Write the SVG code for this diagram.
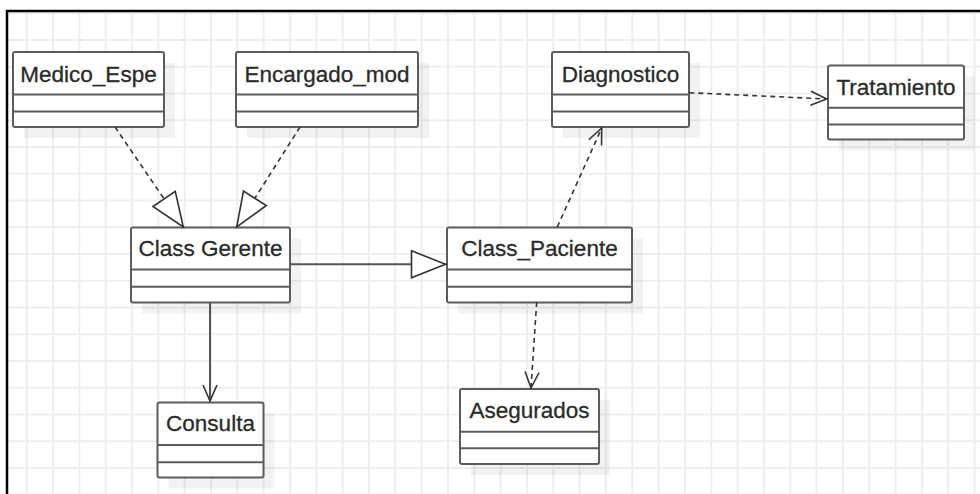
<svg xmlns="http://www.w3.org/2000/svg" width="980" height="494" viewBox="0 0 980 494">
  <defs>
    <pattern id="grid" x="25.7" y="12.25" width="26.33" height="26.75" patternUnits="userSpaceOnUse">
      <path d="M1 0V26.75M0 1H26.33" stroke="#eeeeee" stroke-width="2" fill="none"/>
    </pattern>
    <marker id="tri" viewBox="-2 -16 38 32" refX="34" refY="0" markerWidth="38" markerHeight="32" markerUnits="userSpaceOnUse" orient="auto">
      <path d="M0,-13.5 L34,0 L0,13.5 Z" fill="#fff" stroke="#333" stroke-width="1.6" stroke-linejoin="miter"/>
    </marker>
    <marker id="open" viewBox="-2 -10 20 20" refX="16" refY="0" markerWidth="20" markerHeight="20" markerUnits="userSpaceOnUse" orient="auto">
      <path d="M0,-7 L16,0 L0,7" fill="none" stroke="#333" stroke-width="1.6"/>
    </marker>
  </defs>
  <style>
    .shadow { fill: #000; fill-opacity: 0.05; }
    .box { fill: #fff; stroke: #5c5c5c; stroke-width: 2; }
    .div { stroke: #5c5c5c; stroke-width: 2; }
    .lbl { font-family: "Liberation Sans", Arial, sans-serif; font-size: 22.5px; fill: #2a2a2a; stroke: #2a2a2a; stroke-width: 0.3; text-anchor: middle; }
    .dash { fill: none; stroke: #333; stroke-width: 1.6; stroke-dasharray: 5 4; }
    .solid { fill: none; stroke: #555; stroke-width: 2; }
  </style>
  <rect x="0" y="0" width="980" height="494" fill="#fff"/>
  <rect x="8" y="12" width="972" height="482" fill="url(#grid)"/>
  <g id="frame">
    <line x1="7" y1="10" x2="7" y2="494" stroke="#000" stroke-width="2.5"/>
    <line x1="6" y1="11" x2="980" y2="11" stroke="#000" stroke-width="2.4"/>
  </g>

  <g id="Medico_Espe">
    <rect class="shadow" x="24" y="63" width="151" height="75"/>
    <rect class="box" x="13" y="52" width="151" height="75" rx="2"/>
    <line class="div" x1="13" y1="94.5" x2="164" y2="94.5"/>
    <line class="div" x1="13" y1="111.5" x2="164" y2="111.5"/>
    <text class="lbl" x="88.5" y="81.7">Medico_Espe</text>
  </g>
  <g id="Encargado_mod">
    <rect class="shadow" x="247" y="63" width="182" height="75"/>
    <rect class="box" x="236" y="52" width="182" height="75" rx="2"/>
    <line class="div" x1="236" y1="94.5" x2="418" y2="94.5"/>
    <line class="div" x1="236" y1="111.5" x2="418" y2="111.5"/>
    <text class="lbl" x="327" y="81.7">Encargado_mod</text>
  </g>
  <g id="Diagnostico">
    <rect class="shadow" x="563" y="63" width="137" height="75"/>
    <rect class="box" x="552" y="52" width="137" height="75" rx="2"/>
    <line class="div" x1="552" y1="94.5" x2="689" y2="94.5"/>
    <line class="div" x1="552" y1="111.5" x2="689" y2="111.5"/>
    <text class="lbl" x="620.5" y="81.7">Diagnostico</text>
  </g>
  <g id="Tratamiento">
    <rect class="shadow" x="839" y="76.5" width="136" height="74"/>
    <rect class="box" x="828" y="65.5" width="136" height="74" rx="2"/>
    <line class="div" x1="828" y1="107.8" x2="964" y2="107.8"/>
    <line class="div" x1="828" y1="124.5" x2="964" y2="124.5"/>
    <text class="lbl" x="896" y="94.5">Tratamiento</text>
  </g>
  <g id="Class_Gerente">
    <rect class="shadow" x="142" y="238.5" width="159" height="75"/>
    <rect class="box" x="131" y="227.5" width="159" height="75" rx="2"/>
    <line class="div" x1="131" y1="269.5" x2="290" y2="269.5"/>
    <line class="div" x1="131" y1="286.8" x2="290" y2="286.8"/>
    <text class="lbl" x="210.5" y="256.3">Class Gerente</text>
  </g>
  <g id="Class_Paciente">
    <rect class="shadow" x="458" y="238.5" width="185" height="75"/>
    <rect class="box" x="447" y="227.5" width="185" height="75" rx="2"/>
    <line class="div" x1="447" y1="269.5" x2="632" y2="269.5"/>
    <line class="div" x1="447" y1="286.8" x2="632" y2="286.8"/>
    <text class="lbl" x="539.5" y="256.3">Class_Paciente</text>
  </g>
  <g id="Consulta">
    <rect class="shadow" x="168.5" y="413.5" width="106" height="75"/>
    <rect class="box" x="157.5" y="402.5" width="106" height="75" rx="2"/>
    <line class="div" x1="157.5" y1="445" x2="263.5" y2="445"/>
    <line class="div" x1="157.5" y1="462.3" x2="263.5" y2="462.3"/>
    <text class="lbl" x="210.5" y="430.8">Consulta</text>
  </g>
  <g id="Asegurados">
    <rect class="shadow" x="471" y="400" width="139" height="75"/>
    <rect class="box" x="460" y="389" width="139" height="75" rx="2"/>
    <line class="div" x1="460" y1="431.7" x2="599" y2="431.7"/>
    <line class="div" x1="460" y1="448.3" x2="599" y2="448.3"/>
    <text class="lbl" x="529.5" y="417.8">Asegurados</text>
  </g>

  <g id="connectors">
    <path class="dash" d="M115,127 L183.3,227" marker-end="url(#tri)"/>
    <path class="dash" d="M300,127 L236.7,227" marker-end="url(#tri)"/>
    <path class="solid" d="M290,264.3 L445.5,264.3" marker-end="url(#tri)"/>
    <path class="dash" d="M557.3,227 L601.7,128" marker-end="url(#open)"/>
    <path class="dash" d="M689.3,92.7 L826.7,99" marker-end="url(#open)"/>
    <path class="solid" d="M210,302 L210,401" marker-end="url(#open)"/>
    <path class="dash" d="M536.7,302 L531,388" marker-end="url(#open)"/>
  </g>
</svg>
